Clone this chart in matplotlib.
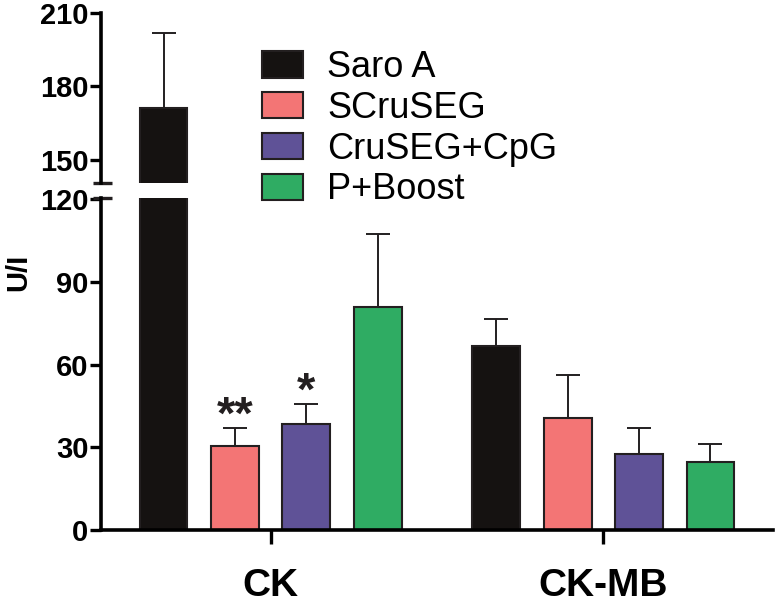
import matplotlib
matplotlib.use("Agg")
import matplotlib.pyplot as plt
import numpy as np

plt.rcParams['font.family'] = ['Liberation Sans', 'DejaVu Sans']

groups = ["CK", "CK-MB"]
series = ["Saro A", "SCruSEG", "CruSEG+CpG", "P+Boost"]
means = {
    "Saro A":     [171.2, 66.8],
    "SCruSEG":    [30.5, 40.7],
    "CruSEG+CpG": [38.5, 27.6],
    "P+Boost":    [80.8, 24.8],
}
errs = {
    "Saro A":     [30.6, 9.7],
    "SCruSEG":    [6.6, 15.6],
    "CruSEG+CpG": [7.3, 9.4],
    "P+Boost":    [26.8, 6.5],
}
stars = {"SCruSEG": ["**", ""], "CruSEG+CpG": ["*", ""]}
colors = ["#151211", "#F37575", "#5F5297", "#2FAC63"]
edge = "#231F20"

W, H = 776, 608
fig = plt.figure(figsize=(W / 100, H / 100), dpi=100)
left = 101 / W
right = 773 / W
ax_top = fig.add_axes([left, 1 - 183 / H, right - left, (183 - 13) / H])
ax_bot = fig.add_axes([left, 1 - 530 / H, right - left, (530 - 198) / H])

gx = np.arange(len(groups))
step = 0.2147
width = 0.144
cap = 8.6
lw_axis = 2.6

for ax in (ax_top, ax_bot):
    for i, s in enumerate(series):
        xs = gx + (i - 1.5) * step
        ax.bar(xs, means[s], width=width, color=colors[i], edgecolor=edge,
               linewidth=1.5, zorder=2, label=s)
        ax.errorbar(xs, means[s], yerr=[np.zeros(len(groups)), errs[s]],
                    fmt='none', ecolor=edge, elinewidth=1.4, capsize=cap,
                    capthick=1.4, zorder=1)
    ax.set_xlim(-0.51, 1.51)
    for sp in ("top", "right"):
        ax.spines[sp].set_visible(False)
    ax.spines["left"].set_linewidth(lw_axis)
    ax.spines["bottom"].set_linewidth(lw_axis)
    ax.tick_params(axis='y', length=8, width=2.4, labelsize=21, pad=1)

# top segment
ax_top.set_ylim(140.6, 210)
ax_top.set_yticks([150, 180, 210])
ax_top.spines["bottom"].set_visible(False)
ax_top.tick_params(axis='x', bottom=False, labelbottom=False)
ax_top.set_yticklabels([str(v) for v in [150, 180, 210]], fontweight='bold')

# bottom segment
ax_bot.set_ylim(0, 120.5)
ax_bot.set_yticks([0, 30, 60, 90, 120])
ax_bot.set_yticklabels([str(v) for v in [0, 30, 60, 90, 120]], fontweight='bold')
ax_bot.set_xticks(gx)
ax_bot.set_xticklabels(groups, fontsize=28, fontweight='bold')
ax_bot.tick_params(axis='x', length=10, width=2.4, pad=17)

# break marks
for ax, yv in ((ax_top, 0.0), (ax_bot, 1.0)):
    ax.plot([-0.012, 0.016], [yv, yv], transform=ax.transAxes, color=edge,
            lw=2.4, clip_on=False, solid_capstyle='butt')

# significance stars
for s, marks in stars.items():
    i = series.index(s)
    for g, m in enumerate(marks):
        if m:
            x = g + (i - 1.5) * step
            ax_bot.text(x, means[s][g] + errs[s][g] - 3.8, m, ha='center',
                        va='bottom', fontsize=34, fontweight='bold', color=edge)

fig.text(18 / W, 1 - 272 / H, "U/I", rotation=90, ha='center', va='center',
         fontsize=21, fontweight='bold')

handles, labels = ax_bot.get_legend_handles_labels()
fig.legend(handles, labels, loc='upper left', bbox_to_anchor=(262 / W, 1 - 50 / H),
           frameon=False, fontsize=26, handlelength=1.14, handleheight=0.75,
           handletextpad=0.67, labelspacing=0.16, borderaxespad=0, borderpad=0)

fig.savefig("out.png", dpi=100)
